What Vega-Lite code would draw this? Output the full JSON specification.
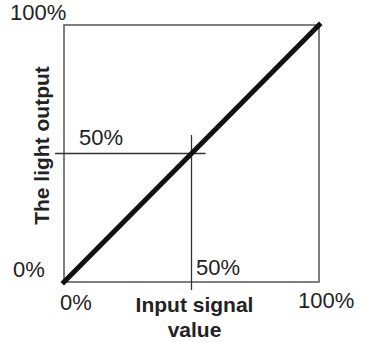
{
  "$schema": "https://vega.github.io/schema/vega-lite/v6.json",
  "autosize": "none",
  "width": 255,
  "height": 257,
  "padding": {"left": 64, "top": 25, "right": 51, "bottom": 60},
  "background": "white",
  "view": {"stroke": "#555555", "strokeWidth": 1.5},
  "config": {"font": "Liberation Sans"},
  "datasets": {
    "diag": [{"input": 0, "output": 0}, {"input": 100, "output": 100}],
    "hline": [{"x": -3.5, "x2": 55.5, "y": 50}],
    "vline": [{"x": 50, "y": -3.1, "y2": 57.2}],
    "labels": [
      {"label": "100%", "x": -21.2, "y": 102.0},
      {"label": "0%", "x": -20.0, "y": 1.9},
      {"label": "0%", "x": -1.6, "y": -10.9},
      {"label": "100%", "x": 91.8, "y": -10.1},
      {"label": "50%", "x": 51.8, "y": 2.7},
      {"label": "50%", "x": 5.9, "y": 53.3}
    ]
  },
  "layer": [
    {
      "data": {"name": "hline"},
      "mark": {"type": "rule", "color": "#333333", "strokeWidth": 1.3},
      "encoding": {
        "x": {"field": "x", "type": "quantitative", "scale": {"domain": [0, 100], "nice": false, "zero": false},
              "axis": {"labels": false, "ticks": false, "domain": false, "grid": false, "title": ["Input signal", "value"],
                       "titleFont": "Liberation Sans", "titleFontWeight": "bold", "titleFontSize": 21, "titleColor": "#222222",
                       "titlePadding": 12, "titleLineHeight": 25, "titleX": 130, "titleAnchor": "middle"}},
        "x2": {"field": "x2"},
        "y": {"field": "y", "type": "quantitative", "scale": {"domain": [0, 100], "nice": false, "zero": false},
              "axis": {"labels": false, "ticks": false, "domain": false, "grid": false, "title": "The light output",
                       "titleFont": "Liberation Sans", "titleFontWeight": "bold", "titleFontSize": 21, "titleColor": "#222222",
                       "titlePadding": 12, "titleY": 120}}
      }
    },
    {
      "data": {"name": "vline"},
      "mark": {"type": "rule", "color": "#333333", "strokeWidth": 1.3},
      "encoding": {
        "x": {"field": "x", "type": "quantitative"},
        "y": {"field": "y", "type": "quantitative"},
        "y2": {"field": "y2"}
      }
    },
    {
      "data": {"name": "diag"},
      "mark": {"type": "line", "color": "#111111", "strokeWidth": 5, "strokeCap": "square"},
      "encoding": {
        "x": {"field": "input", "type": "quantitative"},
        "y": {"field": "output", "type": "quantitative"}
      }
    },
    {
      "data": {"name": "labels"},
      "mark": {"type": "text", "align": "left", "baseline": "alphabetic", "fontSize": 22, "font": "Liberation Sans", "color": "#222222"},
      "encoding": {
        "x": {"field": "x", "type": "quantitative"},
        "y": {"field": "y", "type": "quantitative"},
        "text": {"field": "label"}
      }
    }
  ]
}
